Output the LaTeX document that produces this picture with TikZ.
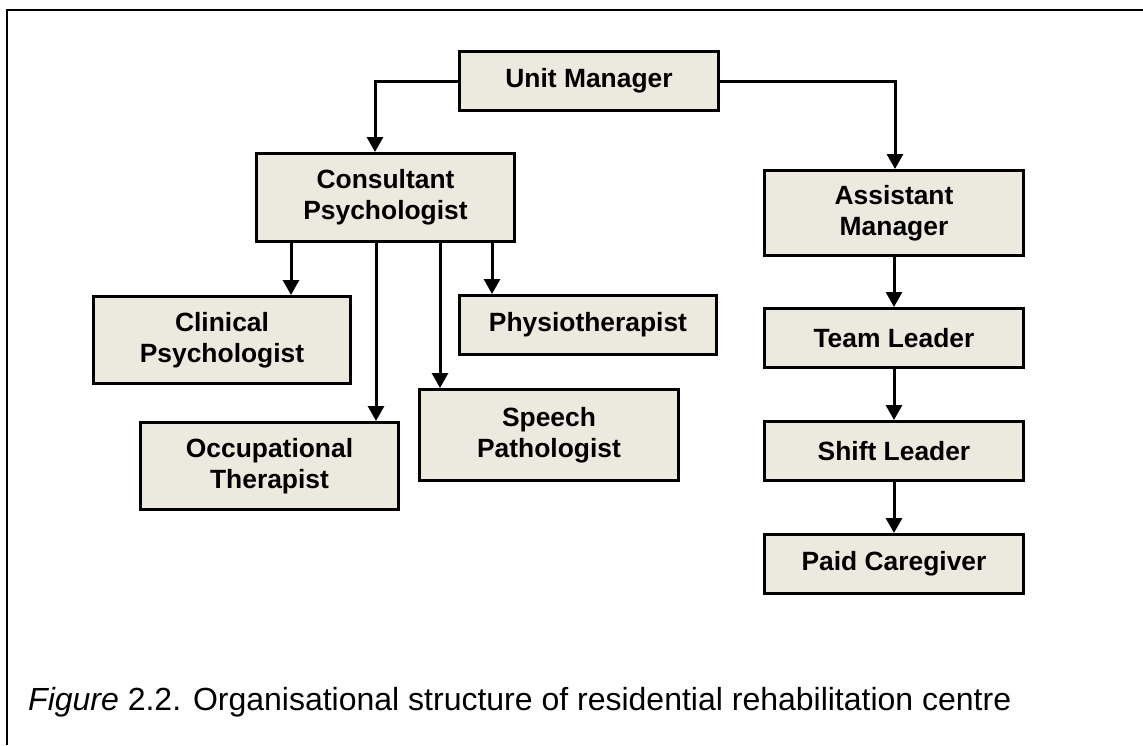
\documentclass[tikz,border=0pt]{standalone}
\usepackage{fontspec}
\setmainfont{Liberation Sans}
\usetikzlibrary{arrows.meta}
\definecolor{boxfill}{RGB}{236,233,223}
\begin{document}
\begin{tikzpicture}[x=1pt,y=-1pt,
  orgbox/.style={draw=black,line width=3pt,fill=boxfill,align=center,
    font=\fontsize{26.4}{31}\selectfont\bfseries,inner sep=0pt},
  link/.style={line width=3pt,line join=miter,
    -{Triangle[width=16pt,length=15pt]}}]
  \useasboundingbox (0,0) rectangle (1143,745);
  % frame
  \draw[line width=2pt] (7,745) -- (7,10) -- (1143,10);
  % boxes
  \node[orgbox,minimum width=259pt,minimum height=59pt] (um) at (589,81) {Unit Manager};
  \node[orgbox,minimum width=258pt,minimum height=88pt] (cons) at (385.5,197.5) {Consultant\\Psychologist};
  \node[orgbox,minimum width=257pt,minimum height=87pt] (clin) at (222,340) {Clinical\\Psychologist};
  \node[orgbox,minimum width=257pt,minimum height=59pt] (phys) at (588,325) {Physiotherapist};
  \node[orgbox,minimum width=258pt,minimum height=87pt] (occ) at (269.5,466) {Occupational\\Therapist};
  \node[orgbox,minimum width=259pt,minimum height=91pt] (speech) at (549,435) {Speech\\Pathologist};
  \node[orgbox,minimum width=259pt,minimum height=85pt] (asst) at (894,213) {Assistant\\Manager};
  \node[orgbox,minimum width=259pt,minimum height=59pt] (team) at (894,338) {Team Leader};
  \node[orgbox,minimum width=259pt,minimum height=59pt] (shift) at (894,451) {Shift Leader};
  \node[orgbox,minimum width=259pt,minimum height=59pt] (paid) at (894,564) {Paid Caregiver};
  % connector columns
  \coordinate (colL) at (375,0);
  \coordinate (colR) at (895,0);
  \coordinate (colA) at (291,0);
  \coordinate (colB) at (376,0);
  \coordinate (colC) at (440,0);
  \coordinate (colD) at (492,0);
  % connectors
  \draw[link] (um.west) -| (cons.north -| colL);
  \draw[link] (um.east) -| (asst.north -| colR);
  \draw[link] (cons.south -| colA) -- (clin.north -| colA);
  \draw[link] (cons.south -| colB) -- (occ.north -| colB);
  \draw[link] (cons.south -| colC) -- (speech.north -| colC);
  \draw[link] (cons.south -| colD) -- (phys.north -| colD);
  \draw[link] (asst.south) -- (team.north);
  \draw[link] (team.south) -- (shift.north);
  \draw[link] (shift.south) -- (paid.north);
  % caption
  \node[anchor=base west,inner sep=0pt,font=\fontsize{32}{38}\selectfont] (cap) at (28,710)
    {\textit{Figure} 2.2. Organisational structure of residential rehabilitation centre};
\end{tikzpicture}
\end{document}
